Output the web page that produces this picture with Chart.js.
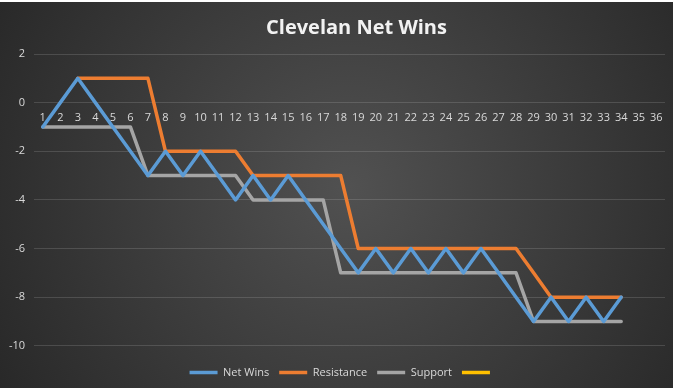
<!DOCTYPE html>
<html>
<head>
<meta charset="utf-8">
<script src="https://cdn.jsdelivr.net/npm/chart.js@4/dist/chart.umd.min.js"></script>
<style>
  html, body { margin: 0; padding: 0; background: #ffffff; width: 682px; height: 390px; overflow: hidden; }
  #wrap { position: absolute; left: 0; top: 2px; width: 673px; height: 386px; }
</style>
</head>
<body>
<div id="wrap"><canvas id="c"></canvas></div>
<script>
const categories = ['1','2','3','4','5','6','7','8','9','10','11','12','13','14','15','16','17','18','19','20','21','22','23','24','25','26','27','28','29','30','31','32','33','34','35','36'];
const netWins    = [-1,0,1,0,-1,-2,-3,-2,-3,-2,-3,-4,-3,-4,-3,-4,-5,-6,-7,-6,-7,-6,-7,-6,-7,-6,-7,-8,-9,-8,-9,-8,-9,-8,null,null];
const resistance = [null,null,1,1,1,1,1,-2,-2,-2,-2,-2,-3,-3,-3,-3,-3,-3,-6,-6,-6,-6,-6,-6,-6,-6,-6,-6,-7,-8,-8,-8,-8,-8,null,null];
const support    = [-1,-1,-1,-1,-1,-1,-3,-3,-3,-3,-3,-3,-4,-4,-4,-4,-4,-7,-7,-7,-7,-7,-7,-7,-7,-7,-7,-7,-9,-9,-9,-9,-9,-9,null,null];
const extra      = categories.map(() => null);
const yTicks = [2,0,-2,-4,-6,-8,-10];

const bgPlugin = {
  id: 'bg',
  beforeDraw(chart) {
    const {ctx, width, height} = chart;
    const g = ctx.createRadialGradient(width*0.52, height*0.48, 0, width*0.52, height*0.48, Math.hypot(width, height)*0.55);
    g.addColorStop(0, '#515151');
    g.addColorStop(1, '#262626');
    ctx.save();
    ctx.fillStyle = g;
    ctx.fillRect(0, 0, width, height);
    ctx.restore();
  },
  afterLayout(chart) {
    const t = chart.titleBlock;
    if (t) { t.left = 48; }
    const l = chart.legend;
    if (l) { l.left += 20; }
  }
};

function ds(label, data, color) {
  return {
    label, data,
    borderColor: color, backgroundColor: color,
    borderWidth: 3.5, pointRadius: 0, pointHoverRadius: 0,
    tension: 0, borderJoinStyle: 'round', borderCapStyle: 'round',
    spanGaps: false, fill: false
  };
}

new Chart(document.getElementById('c'), {
  type: 'line',
  data: {
    labels: categories,
    datasets: [
      ds('Net Wins', netWins, '#5B9BD5'),
      ds('Resistance', resistance, '#ED7D31'),
      ds('Support', support, '#A5A5A5'),
      ds('', extra, '#FFC000')
    ]
  },
  options: {
    responsive: true,
    maintainAspectRatio: false,
    animation: false,
    events: [],
    layout: { padding: { left: 0, right: 8, top: 0, bottom: 0 } },
    scales: {
      x: {
        type: 'category',
        position: { y: 0 },
        offset: true,
        grid: { display: false },
        border: { display: false },
        ticks: {
          color: '#D9D9D9', padding: 1, maxRotation: 0, autoSkip: false,
          font: { family: 'Open Sans', size: 11 }
        }
      },
      y: {
        min: -10, max: 2,
        afterBuildTicks(scale) { scale.ticks = yTicks.map(v => ({ value: v })); },
        afterFit(scale) { scale.width = 34; },
        grid: { color: 'rgba(217,217,217,0.17)', lineWidth: 1, drawTicks: false },
        border: { display: false },
        ticks: {
          color: '#D9D9D9', padding: 9,
          font: { family: 'Open Sans', size: 11 }
        }
      }
    },
    plugins: {
      title: {
        display: true,
        text: 'Clevelan Net Wins',
        color: '#F2F2F2',
        font: { family: 'Open Sans', size: 20, weight: 'bold', lineHeight: 1.2 },
        padding: { top: 14, bottom: 14 }
      },
      legend: {
        position: 'bottom',
        title: { display: true, text: ' ', font: { size: 1, lineHeight: 1.2 }, padding: { top: 5, bottom: 5 } },
        labels: {
          color: '#D9D9D9',
          font: { family: 'Open Sans', size: 11 },
          usePointStyle: true,
          pointStyle: 'line',
          pointStyleWidth: 28,
          padding: 10
        }
      },
      tooltip: { enabled: false }
    }
  },
  plugins: [bgPlugin]
});
</script>
</body>
</html>
